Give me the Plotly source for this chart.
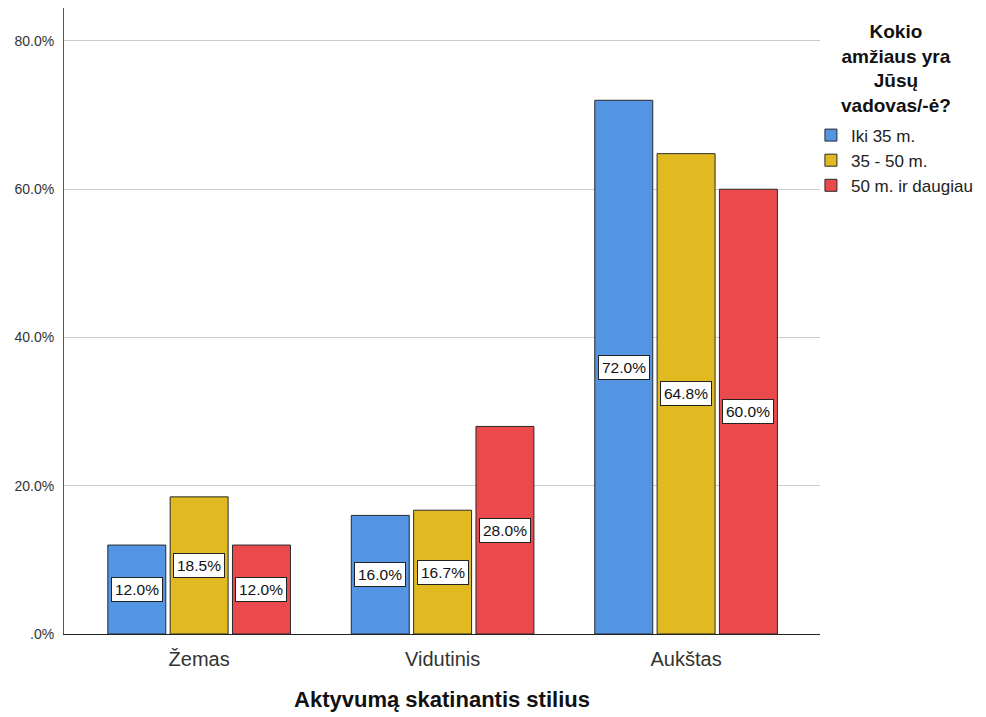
import plotly.graph_objects as go

categories = ["Žemas", "Vidutinis", "Aukštas"]
series_names = ["Iki 35 m.", "35 - 50 m.", "50 m. ir daugiau"]
values_iki35 = [12.0, 16.0, 72.0]
values_35_50 = [18.5, 16.7, 64.8]
values_50plus = [12.0, 28.0, 60.0]
colors = ["#5394E3", "#E0BA20", "#EB4A4C"]
y_tickvals = [0, 20, 40, 60, 80]
y_ticktext = [".0%", "20.0%", "40.0%", "60.0%", "80.0%"]
legend_title = "Kokio<br>amžiaus yra<br>Jūsų<br>vadovas/-ė?"

series_values = [values_iki35, values_35_50, values_50plus]
xs = list(range(len(categories)))
bargap = 0.232
bargroupgap = 0.07
FONT = "Liberation Sans, Arial"

fig = go.Figure()
for name, vals, col in zip(series_names, series_values, colors):
    fig.add_trace(go.Bar(
        x=xs, y=vals, name=name,
        marker=dict(color=col, line=dict(color="#2a2a2a", width=1)),
        hoverinfo="skip",
    ))

slot = (1 - bargap) / 3
for j, vals in enumerate(series_values):
    for i, v in enumerate(vals):
        fig.add_annotation(
            x=i + (j - 1) * slot, y=v / 2, text=f"{v:.1f}%",
            showarrow=False, bgcolor="white", bordercolor="#222222",
            borderwidth=1, borderpad=3,
            font=dict(family=FONT, size=15.5, color="#111111"),
        )

# legend title (centered above legend items)
fig.add_annotation(
    xref="paper", yref="paper", x=1.10, y=0.983, xanchor="center", yanchor="top",
    text=f"<b>{legend_title}</b>", showarrow=False, align="center",
    font=dict(family=FONT, size=19, color="#111111"),
)

fig.update_layout(
    width=986, height=717,
    margin=dict(l=64, r=166, t=8, b=83),
    plot_bgcolor="white", paper_bgcolor="white",
    barmode="group", bargap=bargap, bargroupgap=bargroupgap,
    font=dict(family=FONT, color="#222222"),
    showlegend=True,
    legend=dict(
        x=0.988, xanchor="left", y=0.825, yanchor="top",
        font=dict(size=17, color="#222222"),
        tracegroupgap=0, itemwidth=30, bgcolor="rgba(0,0,0,0)",
    ),
    xaxis=dict(
        tickvals=xs, ticktext=categories, range=[-0.555, 2.55],
        tickfont=dict(size=20, color="#333333"),
        showline=True, linecolor="#222222", linewidth=1,
        ticks="", showgrid=False, zeroline=False, ticklabelstandoff=7,
        title=dict(text="<b>Aktyvumą skatinantis stilius</b>",
                   font=dict(size=22, color="#111111"), standoff=22),
    ),
    yaxis=dict(
        range=[0, 84.45], tickvals=y_tickvals, ticktext=y_ticktext,
        tickfont=dict(size=14, color="#333333"),
        showline=True, linecolor="#555555", linewidth=1,
        showgrid=True, gridcolor="#cccccc", gridwidth=1,
        zeroline=False, ticks="", ticklen=0, ticklabelstandoff=6,
    ),
)

fig.write_html("out.html")
